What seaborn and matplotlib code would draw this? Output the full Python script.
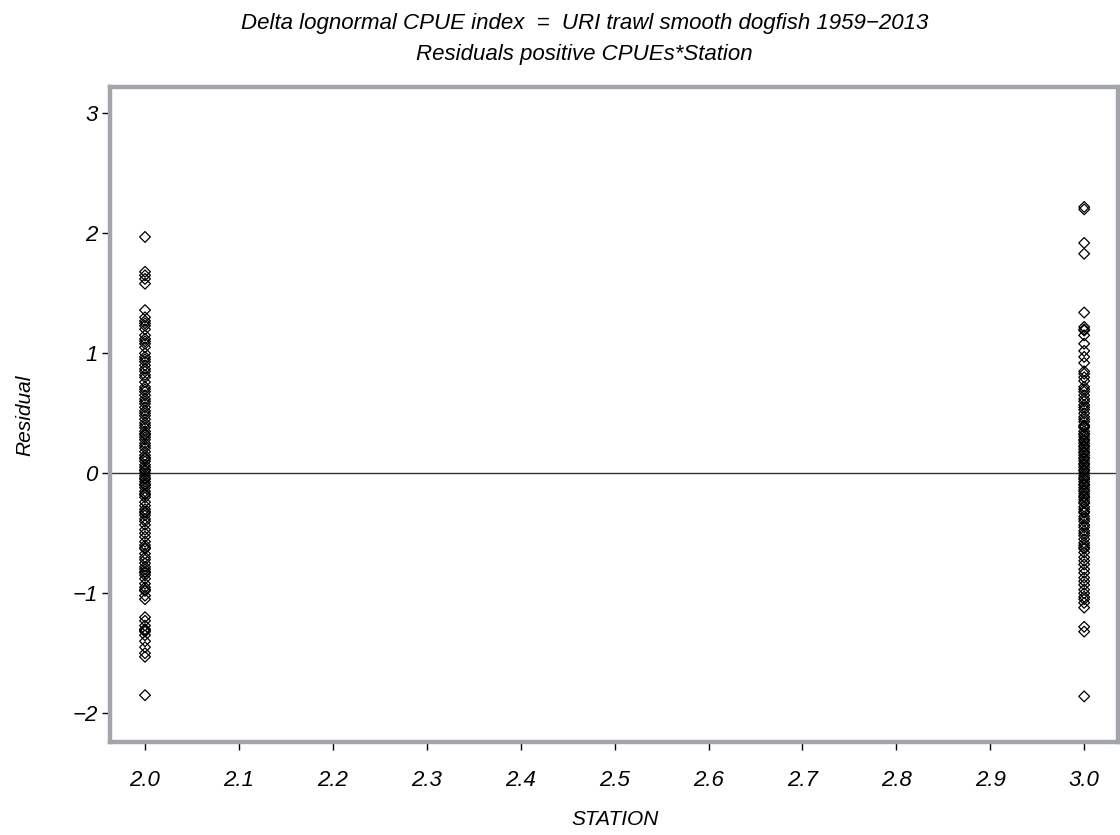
import matplotlib
matplotlib.use("Agg")
import matplotlib.pyplot as plt
import seaborn as sns
import pandas as pd

# ---- data ----
station2_resid = [1.97, 1.68, 1.65, 1.62, 1.58, 1.36, 1.30, 1.27, 1.25, 1.23, 1.20, 1.15,
                  1.12, 1.10, 1.08, 1.05, 1.00, 0.97, 0.95, 0.93, 0.90, 0.87, 0.85, 0.82,
                  0.80, 0.76, 0.72, 0.70, 0.68, 0.65, 0.62, 0.60, 0.58, 0.55, 0.52, 0.50,
                  0.48, 0.45, 0.42, 0.40, 0.38, 0.35, 0.33, 0.32, 0.30, 0.28, 0.25, 0.23,
                  0.21, 0.18, 0.15, 0.13, 0.12, 0.10, 0.07, 0.05, 0.03, 0.02, 0.00, -0.02,
                  -0.04, -0.05, -0.07, -0.09, -0.10, -0.12, -0.15, -0.17, -0.18, -0.20,
                  -0.24, -0.27, -0.30, -0.32, -0.33, -0.35, -0.38, -0.40, -0.43, -0.47,
                  -0.50, -0.53, -0.57, -0.60, -0.62, -0.63, -0.67, -0.70, -0.72, -0.75,
                  -0.78, -0.80, -0.82, -0.83, -0.85, -0.88, -0.92, -0.95, -0.97, -0.98,
                  -1.02, -1.05, -1.20, -1.23, -1.27, -1.30, -1.31, -1.32, -1.35, -1.40,
                  -1.45, -1.50, -1.53, -1.85]
station3_resid = [2.22, 2.20, 1.92, 1.83, 1.34, 1.22, 1.20, 1.19, 1.15, 1.08, 1.02, 0.97,
                  0.92, 0.85, 0.83, 0.80, 0.77, 0.72, 0.70, 0.68, 0.65, 0.62, 0.60, 0.57,
                  0.55, 0.53, 0.50, 0.47, 0.45, 0.43, 0.40, 0.39, 0.38, 0.35, 0.33, 0.32,
                  0.30, 0.28, 0.27, 0.25, 0.23, 0.22, 0.20, 0.18, 0.17, 0.15, 0.13, 0.12,
                  0.10, 0.08, 0.07, 0.05, 0.03, 0.02, 0.00, -0.02, -0.04, -0.05, -0.07,
                  -0.09, -0.10, -0.12, -0.14, -0.15, -0.17, -0.19, -0.20, -0.22, -0.24,
                  -0.25, -0.28, -0.30, -0.32, -0.33, -0.36, -0.38, -0.40, -0.43, -0.45,
                  -0.48, -0.50, -0.52, -0.55, -0.58, -0.60, -0.62, -0.63, -0.66, -0.70,
                  -0.73, -0.76, -0.80, -0.83, -0.87, -0.90, -0.93, -0.97, -1.00, -1.03,
                  -1.05, -1.08, -1.12, -1.28, -1.32, -1.86]
stations = [2.0, 3.0]
x_ticks = [2.0, 2.1, 2.2, 2.3, 2.4, 2.5, 2.6, 2.7, 2.8, 2.9, 3.0]
y_ticks = [-2, -1, 0, 1, 2, 3]

title1 = "Delta lognormal CPUE index  =  URI trawl smooth dogfish 1959\u22122013"
title2 = "Residuals positive CPUEs*Station"

df = pd.DataFrame({
    "STATION": [stations[0]] * len(station2_resid) + [stations[1]] * len(station3_resid),
    "Residual": station2_resid + station3_resid,
})

sns.set_theme(style="white")
plt.rcParams["font.family"] = ["Liberation Sans", "DejaVu Sans"]
plt.rcParams["axes.unicode_minus"] = True
plt.rcParams["text.color"] = "black"
plt.rcParams["xtick.color"] = "black"
plt.rcParams["ytick.color"] = "black"

fig = plt.figure(figsize=(11.2, 8.35), dpi=100)
ax = fig.add_axes([0.0982, 0.1114, 0.900, 0.7844])

ax.axhline(0, color="#303030", lw=1.0, zorder=1)
sns.scatterplot(data=df, x="STATION", y="Residual", ax=ax, marker="D", s=30,
                facecolor="none", edgecolor="black", linewidth=0.9, zorder=3)

ax.set_xlim(1.9627, 3.036)
ax.set_ylim(-2.24, 3.22)
ax.set_xticks(x_ticks)
ax.set_xticklabels([f"{t:.1f}" for t in x_ticks], fontstyle="italic", fontsize=16, color="black")
ax.set_yticks(y_ticks)
ax.set_yticklabels([("\u2212" + str(-t)) if t < 0 else str(t) for t in y_ticks],
                   fontstyle="italic", fontsize=16, color="black")
ax.tick_params(axis="both", direction="out", length=6, width=1, color="black",
               bottom=True, left=True, pad=14)
ax.tick_params(axis="y", pad=3)

for sp in ax.spines.values():
    sp.set_color("#A2A6AA")
    sp.set_linewidth(3.2)
    sp.set_visible(True)

ax.set_xlabel("")
ax.set_ylabel("")
fig.text(0.549, 0.018, "STATION", ha="center", va="center", fontsize=15,
         fontstyle="italic", color="black")
fig.text(0.022, 0.503, "Residual", ha="center", va="center", rotation=90,
         fontsize=15, fontstyle="italic", color="black")
fig.text(0.522, 0.972, title1, ha="center", va="center", fontsize=16,
         fontstyle="italic", color="black")
fig.text(0.522, 0.935, title2, ha="center", va="center", fontsize=16,
         fontstyle="italic", color="black")

fig.savefig("out.png", dpi=100)
